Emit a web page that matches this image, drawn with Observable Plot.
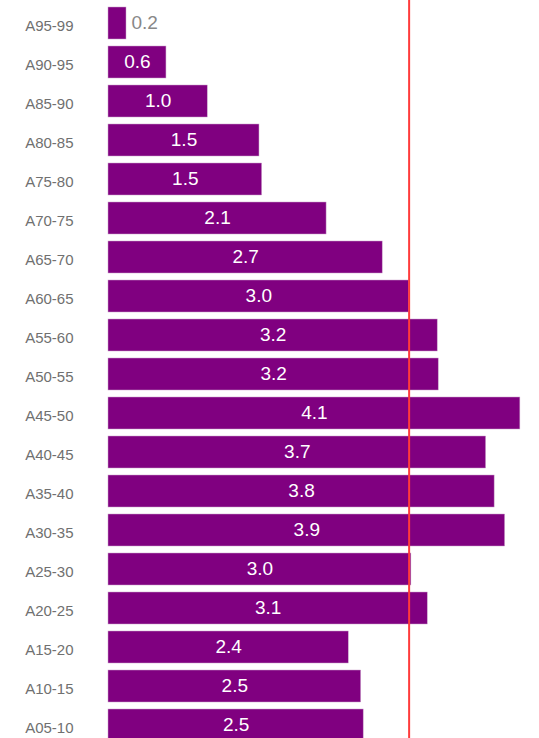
<!DOCTYPE html>
<html>
<head>
<meta charset="utf-8">
<script src="https://cdn.jsdelivr.net/npm/d3@7"></script>
<script src="https://cdn.jsdelivr.net/npm/@observablehq/plot@0.6"></script>
<style>
  html, body { margin: 0; padding: 0; background: #fff; overflow: hidden; }
  #chart { width: 539px; }
</style>
</head>
<body>
<div id="chart"></div>
<script>
const categories = ["A95-99","A90-95","A85-90","A80-85","A75-80","A70-75","A65-70","A60-65","A55-60","A50-55","A45-50","A40-45","A35-40","A30-35","A25-30","A20-25","A15-20","A10-15","A05-10"];
const values = [0.177, 0.570, 0.976, 1.485, 1.511, 2.145, 2.697, 2.957, 3.238, 3.248, 4.051, 3.714, 3.798, 3.901, 2.979, 3.140, 2.363, 2.485, 2.510];
const referenceValue = 2.957;
const insideThreshold = 0.4;

const data = categories.map((c, i) => ({category: c, value: values[i]}));
const inside = data.filter(d => d.value >= insideThreshold);
const outside = data.filter(d => d.value < insideThreshold);

const chart = Plot.plot({
  width: 539,
  height: 760,
  marginLeft: 108,
  marginRight: 4,
  marginTop: 0,
  marginBottom: 0,
  style: {fontFamily: "'Liberation Sans', Arial, sans-serif", background: "#fff"},
  x: {domain: [0, 4.2], axis: null},
  y: {domain: categories, range: [4, 745], paddingInner: 0.17, paddingOuter: 0.085, label: null},
  marks: [
    Plot.barX(data, {x: "value", y: "category", fill: "#800080", stroke: "#c9a0c9", strokeWidth: 0.5}),
    Plot.text(inside, {x: d => d.value / 2, y: "category", text: d => d.value.toFixed(1), fill: "white", fontSize: 19, dy: -1}),
    Plot.text(outside, {x: "value", y: "category", text: d => d.value.toFixed(1), fill: "#888", fontSize: 19, textAnchor: "start", dx: 5, dy: -1}),
    Plot.ruleX([referenceValue], {stroke: "#ff3b3b", strokeWidth: 2}),
    Plot.axisY({tickSize: 0, tickPadding: 35, fontSize: 15, color: "#707070", dy: 3, label: null})
  ]
});
document.getElementById("chart").append(chart);
</script>
</body>
</html>
